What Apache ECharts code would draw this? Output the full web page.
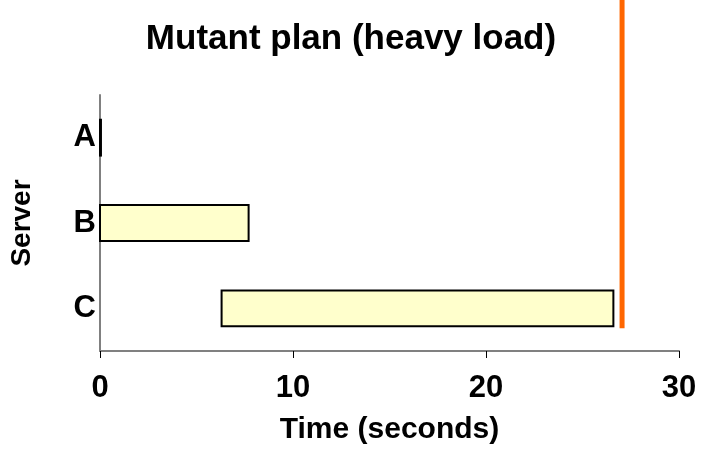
<!DOCTYPE html>
<html>
<head>
<meta charset="utf-8">
<script src="https://cdn.jsdelivr.net/npm/echarts@6/dist/echarts.min.js"></script>
<style>
  html, body { margin: 0; padding: 0; background: #fff; }
  #chart { width: 702px; height: 470px; }
</style>
</head>
<body>
<div id="chart"></div>
<script>
// Server activity intervals (seconds)
const servers = ['A', 'B', 'C'];
const startTimes = [0, 0, 6.3];
const endTimes = [0.05, 7.7, 26.6];
// Completion time marker
const deadline = 27.05;
const xTicks = [0, 10, 20, 30];

const FONT = '"Liberation Sans", Arial, Helvetica, sans-serif';

const intervals = servers.map((s, i) => [i, startTimes[i], endTimes[i]]);

const chart = echarts.init(document.getElementById('chart'), null, { renderer: 'canvas' });

chart.setOption({
  animation: false,
  backgroundColor: '#ffffff',
  title: {
    text: 'Mutant plan (heavy load)',
    left: 'center',
    top: 17,
    textStyle: { fontFamily: FONT, fontWeight: 'bold', fontSize: 35, color: '#000' }
  },
  grid: { left: 99, right: 23, top: 95, bottom: 119, containLabel: false },
  xAxis: {
    type: 'value',
    min: xTicks[0],
    max: xTicks[xTicks.length - 1],
    interval: 10,
    name: 'Time (seconds)',
    nameLocation: 'middle',
    nameGap: 64,
    nameTextStyle: { fontFamily: FONT, fontWeight: 'bold', fontSize: 30, color: '#000' },
    axisLine: { show: true, lineStyle: { color: '#808080', width: 2 } },
    axisTick: { show: true, inside: false, length: 7, lineStyle: { color: '#000', width: 1 } },
    axisLabel: { margin: 22, fontFamily: FONT, fontWeight: 'bold', fontSize: 31, color: '#000' },
    splitLine: { show: false }
  },
  yAxis: {
    type: 'category',
    data: servers,
    inverse: true,
    name: 'Server',
    nameLocation: 'middle',
    nameGap: 64,
    nameRotate: 90,
    nameTextStyle: { fontFamily: FONT, fontWeight: 'bold', fontSize: 28, color: '#000' },
    axisLine: { show: true, lineStyle: { color: '#808080', width: 2 } },
    axisTick: { show: false },
    axisLabel: { margin: 4, fontFamily: FONT, fontWeight: 'bold', fontSize: 31, color: '#000' },
    splitLine: { show: false }
  },
  series: [
    {
      type: 'custom',
      data: intervals,
      encode: { x: [1, 2], y: 0 },
      renderItem: function (params, api) {
        const cat = api.value(0);
        const p0 = api.coord([api.value(1), cat]);
        const p1 = api.coord([api.value(2), cat]);
        const h = api.size([0, 1])[1] * 0.42;
        return {
          type: 'rect',
          shape: { x: p0[0], y: p0[1] - h / 2, width: Math.max(p1[0] - p0[0], 0.5), height: h },
          style: { fill: '#FFFFCC', stroke: '#000', lineWidth: 2 }
        };
      }
    },
    {
      type: 'custom',
      data: [[deadline, servers.length - 1]],
      encode: { x: 0, y: 1 },
      clip: false,
      renderItem: function (params, api) {
        const p = api.coord([api.value(0), api.value(1)]);
        const h = api.size([0, 1])[1] * 0.42;
        return {
          type: 'line',
          shape: { x1: p[0], y1: 0, x2: p[0], y2: p[1] + h / 2 + 2 },
          style: { stroke: '#FF6600', lineWidth: 5 }
        };
      }
    }
  ]
});
</script>
</body>
</html>
